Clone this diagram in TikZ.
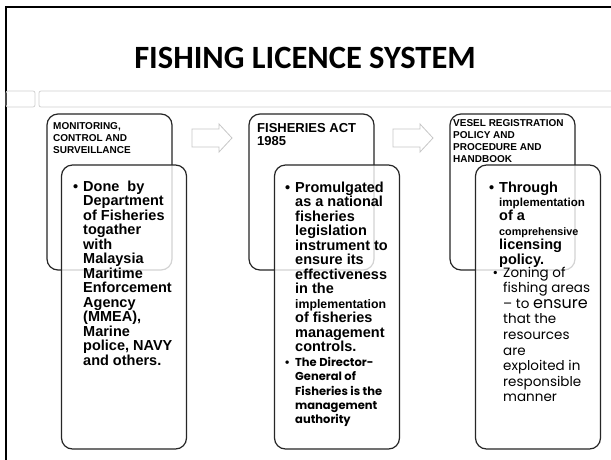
\documentclass[tikz,border=0pt]{standalone}
\usepackage{fontspec}
\setmainfont{Liberation Sans}
\newfontfamily\titlefont{Carlito}
\newfontfamily\gothicfont{Poppins}
\newcommand{\bul}{\llap{\textbullet\hspace{5pt}}}
\tikzset{
  backbox/.style={draw=black!85, line width=1.2pt, rounded corners=11pt,
    minimum width=125pt, minimum height=156pt, inner sep=0pt},
  frontbox/.style={backbox, fill=white, fill opacity=0.8, minimum height=284pt},
  headtext/.style={anchor=north west, inner sep=0pt, align=left,
    font=\bfseries\fontsize{10}{12}\selectfont},
  bodytext/.style={anchor=north west, inner sep=0pt, align=left,
    font=\bfseries\fontsize{14.5}{14.5}\selectfont},
  gothictext/.style={anchor=north west, inner sep=0pt, align=left,
    font=\gothicfont\fontsize{13.5}{15.6}\selectfont},
  blockarrow/.style={draw=black!22, line width=0.8pt, fill=white},
  bar/.style={draw=black!18, line width=0.8pt, rounded corners=2pt}
}
\begin{document}
\begin{tikzpicture}[x=1pt,y=-1pt]
    \useasboundingbox[fill=white] (0,0) rectangle (611,459);
    \clip (0,0) rectangle (611,459);
    % slide frame and bars
    \draw[line width=2.4pt] (6,470) -- (6,7) -- (620,7);
    \draw[bar] (6,91) rectangle (35,107);
    \draw[bar] (39,91) rectangle (620,107);
    \node[font=\titlefont\bfseries\fontsize{32.5}{32.5}\selectfont] (title) at (305,58) {FISHING LICENCE SYSTEM};
    % block arrows
    \foreach \ax in {192,393}
      \draw[blockarrow] (\ax,129) -- ++(27,0) -- ++(0,-5) -- ++(13,14) -- ++(-13,14) -- ++(0,-5) -- ++(-27,0) -- cycle;
    % back boxes
    \node[backbox] (mcs) at (109.5,192) {};
    \node[backbox] (act) at (311.5,192) {};
    \node[backbox] (vesel) at (512.5,192) {};
    \node[headtext] (mcshead) at (53,122.8) {MONITORING,\\CONTROL AND\\SURVEILLANCE};
    \node[headtext, font=\bfseries\fontsize{13}{13}\selectfont] (acthead) at (257,123.7) {FISHERIES ACT\\1985};
    \node[headtext] (veselhead) at (453,119.8) {VESEL REGISTRATION\\POLICY AND\\PROCEDURE AND\\HANDBOOK};
    % front boxes
    \node[frontbox] (mcsbody) at (124,307) {};
    \node[frontbox] (actbody) at (337,307) {};
    \node[frontbox] (veselbody) at (538,307) {};
    \node[bodytext] (mcstext) at (83,180.4) {\bul Done\ \ by\\Department\\of Fisheries\\togather\\with\\Malaysia\\Maritime\\Enforcement\\Agency\\(MMEA),\\Marine\\police, NAVY\\and others.};
    \node[bodytext] (acttext) at (295,181.4) {\bul Promulgated\\as a national\\fisheries\\legislation\\instrument to\\ensure its\\effectiveness\\in the\\{\fontsize{12.3}{14.5}\selectfont implementation}\\of fisheries\\management\\controls.};
    \node[gothictext, font=\gothicfont\bfseries\fontsize{11.5}{14.3}\selectfont] (actauth) at (295,357) {\bul The Director-\\General of\\Fisheries is the\\management\\authority};
    \node[bodytext, font=\bfseries\fontsize{14.5}{14.4}\selectfont] (vesetext) at (499,181.4) {\bul Through\\{\fontsize{11.6}{14.4}\selectfont implementation}\\of a\\{\fontsize{10.8}{14.4}\selectfont comprehensive}\\licensing\\policy.};
    \node[gothictext] (zoning) at (503,266.5) {\bul Zoning of\\fishing areas\\– to {\fontsize{16}{15.6}\selectfont ensure}\\that the\\resources\\are\\exploited in\\responsible\\manner};
\end{tikzpicture}
\end{document}
